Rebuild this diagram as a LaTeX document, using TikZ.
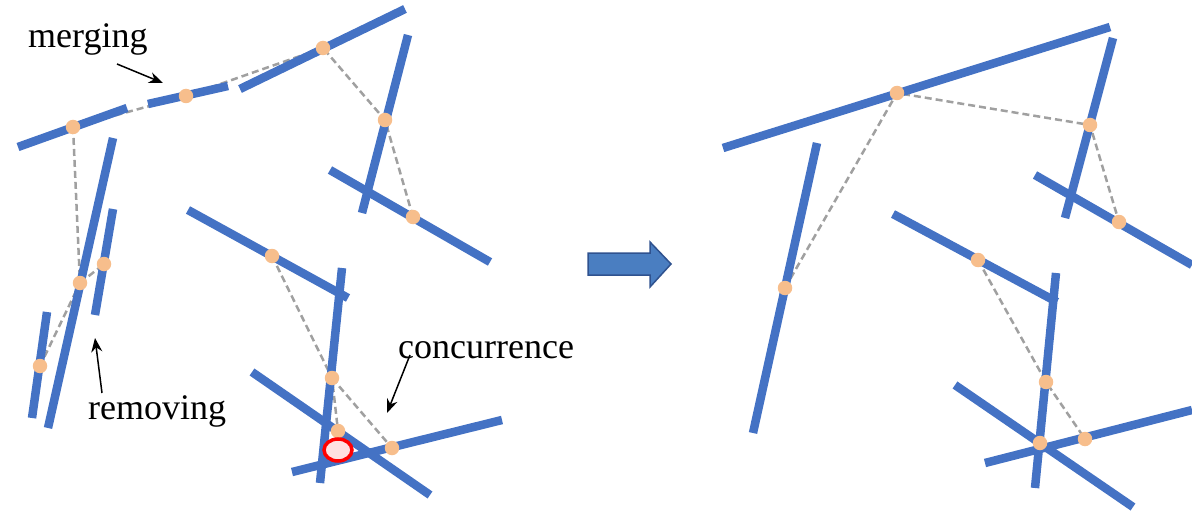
\documentclass[tikz,border=0pt]{standalone}
\usepackage{fontspec}
\setmainfont{Liberation Serif}
\usetikzlibrary{arrows.meta,backgrounds}
\definecolor{segblue}{RGB}{68,114,196}
\definecolor{dotpeach}{RGB}{247,190,140}
\definecolor{linkgray}{RGB}{160,160,160}
\definecolor{bigarrow}{RGB}{74,126,193}
\definecolor{bigarrowedge}{RGB}{47,82,143}
\begin{document}
\begin{tikzpicture}[x=1pt,y=-1pt,
  seg/.style={line width=8.5pt,color=segblue},
  dot/.style={circle,fill=dotpeach,inner sep=0pt,minimum size=14.5pt},
  link/.style={line width=2.5pt,color=linkgray,dash pattern=on 7pt off 4pt},
  lbl/.style={font=\fontsize{36}{40}\selectfont,anchor=base west,inner sep=0pt},
  pointer/.style={-{Stealth[length=14pt,width=11pt]},line width=1.5pt}]

\useasboundingbox (0,0) rectangle (1192,516);

% left: before
\node[dot] (dA) at (73,127) {};
\node[dot] (dB) at (186,96) {};
\node[dot] (dC) at (323,48) {};
\node[dot] (dD) at (385,120) {};
\node[dot] (dE) at (413,217) {};
\node[dot] (dF) at (80,283) {};
\node[dot] (dG) at (104,264) {};
\node[dot] (dH) at (40,366) {};
\node[dot] (dI) at (272,256) {};
\node[dot] (dJ) at (332,378) {};
\node[dot] (dK) at (338,431) {};
\node[dot] (dL) at (392,448) {};

% right: after
\node[dot] (eP) at (897,93) {};
\node[dot] (eQ) at (1090,125) {};
\node[dot] (eR) at (1119,222) {};
\node[dot] (eS) at (785,288) {};
\node[dot] (eT) at (978,260) {};
\node[dot] (eU) at (1046,382) {};
\node[dot] (eW) at (1040,443) {};
\node[dot] (eV) at (1085,439) {};

\begin{scope}[on background layer]
\draw[link] (dA.center) -- (dB.center) -- (dC.center) -- (dD.center) -- (dE.center);
\draw[link] (dA.center) -- (dF.center) -- (dH.center);
\draw[link] (dF.center) -- (dG.center);
\draw[link] (dI.center) -- (dJ.center) -- (dK.center);
\draw[link] (dJ.center) -- (dL.center);

\draw[link] (eS.center) -- (eP.center) -- (eQ.center) -- (eR.center);
\draw[link] (eT.center) -- (eU.center) -- (eV.center);

\draw[seg] (18,147) -- (127,108);
\draw[seg] (148,104) -- (228,86);
\draw[seg] (240,89) -- (405,9);
\draw[seg] (408,35) -- (362,213);
\draw[seg] (330,170) -- (490,262);
\draw[seg] (113,138) -- (48,428);
\draw[seg] (113,209) -- (95,315);
\draw[seg] (47,312) -- (32,418);
\draw[seg] (188,210) -- (348,298);
\draw[seg] (342,268) -- (320,483);
\draw[seg] (252,372) -- (430,495);
\draw[seg] (292,472) -- (502,420);

\draw[seg] (723,148) -- (1110,27);
\draw[seg] (1113,38) -- (1065,218);
\draw[seg] (1035,175) -- (1192,265);
\draw[seg] (817,143) -- (753,433);
\draw[seg] (893,214) -- (1057,302);
\draw[seg] (1056,273) -- (1035,488);
\draw[seg] (955,385) -- (1133,507);
\draw[seg] (985,463) -- (1192,410);
\end{scope}

\draw[red,line width=3.5pt,fill=red!12] (338,450) ellipse [x radius=14,y radius=11];

\fill[bigarrow,draw=bigarrowedge,line width=1.5pt] (588,253) -- (650,253) -- (650,242)
  -- (671,264) -- (650,287) -- (650,275) -- (588,275) -- cycle;

\node[lbl] (merging) at (28,48) {merging};
\node[lbl] (removing) at (88,419) {removing};
\node[lbl] (concurrence) at (398,358) {concurrence};

\coordinate (mergefrom) at (117,64);
\coordinate (mergeto) at (163,83);
\coordinate (removefrom) at (102,393);
\coordinate (removeto) at (95,338);
\coordinate (concurfrom) at (410,355);
\coordinate (concurto) at (387,413);
\draw[pointer] (mergefrom) -- (mergeto);
\draw[pointer] (removefrom) -- (removeto);
\draw[pointer] (concurfrom) -- (concurto);
\end{tikzpicture}
\end{document}
